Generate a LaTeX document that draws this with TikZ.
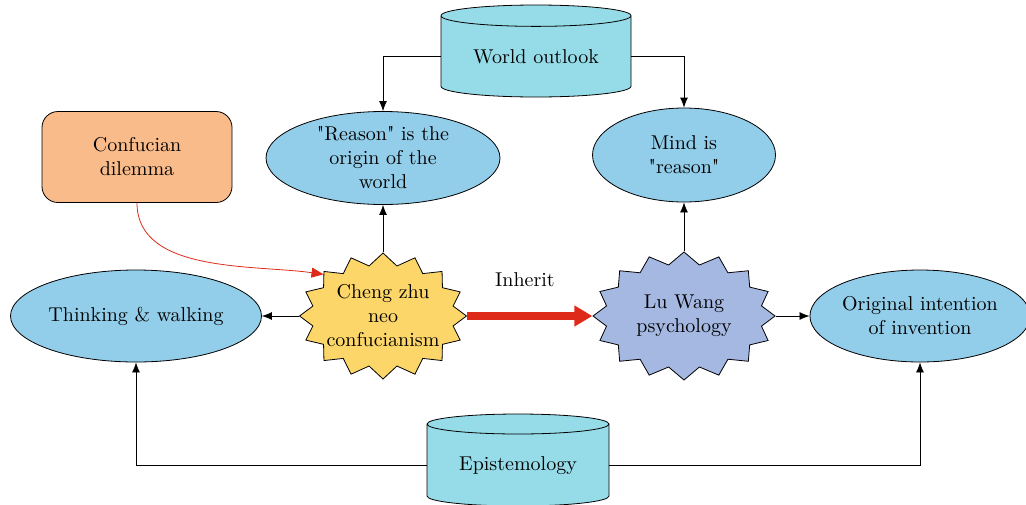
\documentclass[tikz,border=0pt]{standalone}
\usepackage{fontspec}
\usetikzlibrary{shapes.geometric,shapes.symbols,arrows.meta}
\definecolor{ellBlue}{RGB}{146,206,234}
\definecolor{drumBlue}{RGB}{150,220,232}
\definecolor{burstYellow}{RGB}{252,214,104}
\definecolor{burstLilac}{RGB}{164,184,226}
\definecolor{boxOrange}{RGB}{249,187,138}
\definecolor{arrowRed}{RGB}{222,42,24}

\begin{document}
\begin{tikzpicture}[x=0.5pt, y=-0.5pt]
\tikzstyle{ellStyle}=[ellipse, draw, fill=ellBlue, align=center, inner sep=0pt]
\tikzstyle{drumStyle}=[cylinder, shape border rotate=90, draw, fill=drumBlue, aspect=0.17, inner sep=0pt, anchor=shape center]
\tikzstyle{burstStyle}=[starburst, draw, random starburst=0, starburst points=16, starburst point height=6pt, inner sep=0pt]
\tikzstyle{linkStyle}=[draw, -{Latex[length=5pt, width=4pt]}]
\useasboundingbox (0,0) rectangle (1026,504);
% sources
\node[drumStyle, minimum width=95pt, minimum height=46pt] (world) at (536,51) {World outlook};
\node[drumStyle, minimum width=91pt, minimum height=46pt] (episteme) at (518,460) {Epistemology};
\node[draw, rounded corners=8pt, fill=boxOrange, align=center, minimum width=95pt, minimum height=45.5pt] (dilemma) at (137,157) {Confucian\\dilemma};
% ellipses
\node[ellStyle, minimum width=117pt, minimum height=46.5pt] (reason) at (383,158) {\textquotedbl Reason\textquotedbl{} is the\\origin of the\\world};
\node[ellStyle, minimum width=91.5pt, minimum height=47pt] (mind) at (684,155) {Mind is\\\textquotedbl reason\textquotedbl};
\node[ellStyle, minimum width=125.5pt, minimum height=46pt] (think) at (136,316) {Thinking \& walking};
\node[ellStyle, minimum width=106pt, minimum height=46pt] (intent) at (920,316) {Original intention\\of invention};
% schools
\node[burstStyle, fill=burstYellow, minimum width=83.5pt, minimum height=63pt,
  label={[align=center]center:Cheng zhu\\neo\\confucianism}] (cheng) at (383,316) {};
\node[burstStyle, fill=burstLilac, minimum width=91pt, minimum height=64pt,
  label={[align=center]center:Lu Wang\\psychology}] (luwang) at (684,316) {};
\node (inherit) at (525,280) {Inherit};
% links
\draw[linkStyle] (world.west) -| (reason.north);
\draw[linkStyle] (world.east) -| (mind.north);
\draw[linkStyle] (cheng.north) -- (reason.south);
\draw[linkStyle] (luwang.north) -- (mind.south);
\draw[linkStyle] (cheng.west) -- (think.east);
\draw[linkStyle] (luwang.east) -- (intent.west);
\draw[linkStyle] (episteme.west) -| (think.south);
\draw[linkStyle] (episteme.east) -| (intent.south);
\draw[arrowRed, -{Triangle[length=6pt, width=5pt]}] (dilemma.south) to[out=-90, in=172, looseness=0.9] (cheng.145);
\draw[arrowRed, line width=4pt, -{Triangle[length=9pt, width=10pt]}] (cheng.east) -- (luwang.west);
\end{tikzpicture}
\end{document}
